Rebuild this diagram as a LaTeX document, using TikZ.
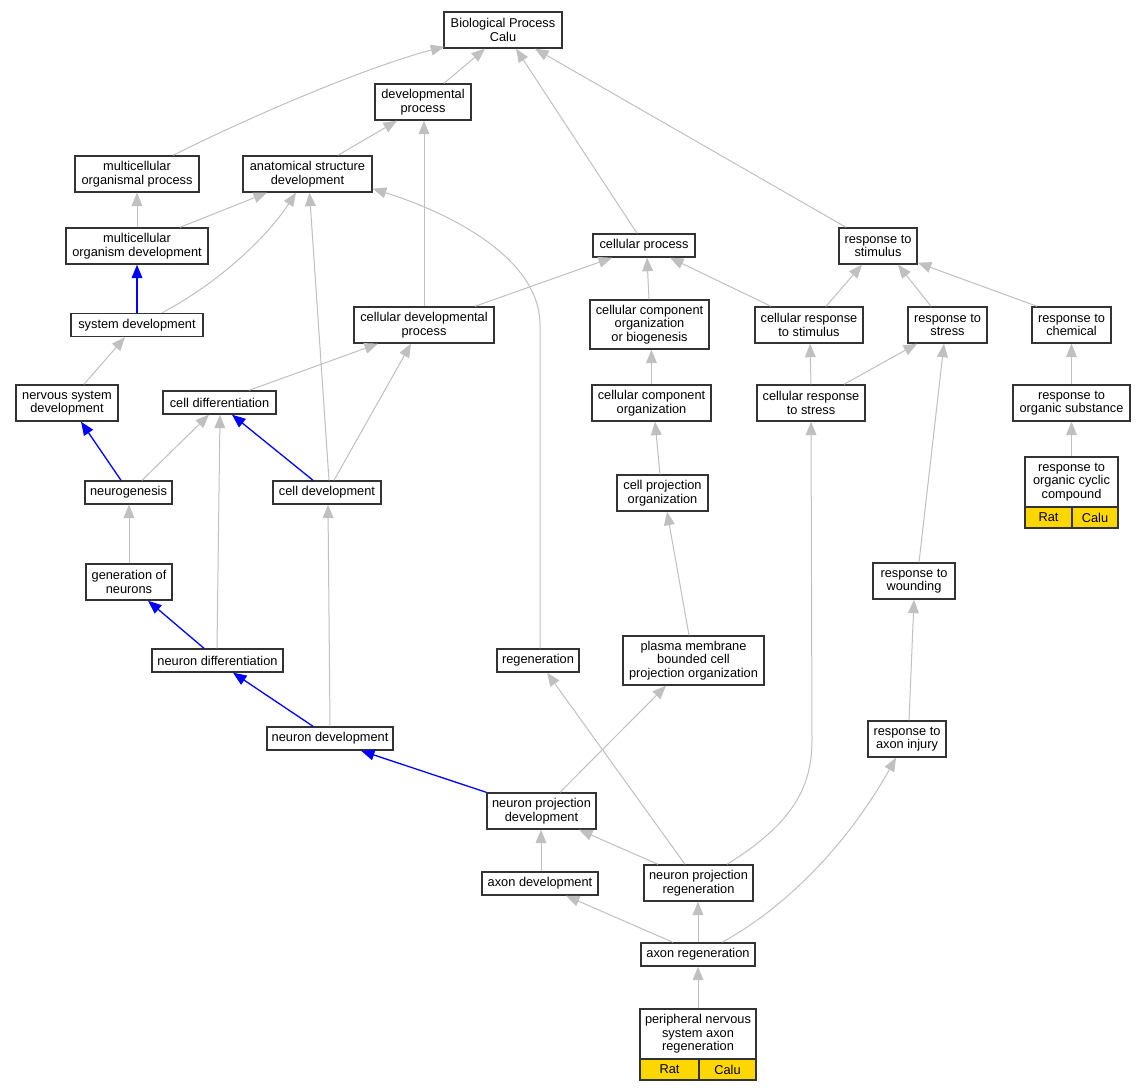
\documentclass[tikz,border=0pt]{standalone}
\usepackage{fontspec}
\setmainfont{Liberation Sans}
\usetikzlibrary{arrows.meta}
\definecolor{edgegray}{RGB}{192,192,192}
\definecolor{boxline}{RGB}{51,51,51}
\definecolor{goldy}{RGB}{255,215,0}
\tikzset{
  box/.style={draw=boxline, line width=1.4pt, fill=white, inner sep=0pt, align=center,
    font=\fontsize{12.8}{13.6}\selectfont},
  bx/.style n args={2}{box, minimum width=#1pt, minimum height=#2pt},
  ybx/.style n args={2}{bx={#1}{#2}, fill=goldy},
  ge/.style={draw=edgegray, line width=1pt, -{Triangle[length=13.5pt,width=10.8pt]}},
  be/.style={draw=blue, line width=1.3pt, -{Triangle[length=13.5pt,width=10.8pt]}}
}
\begin{document}
\begin{tikzpicture}[x=1pt,y=1pt]
\useasboundingbox[fill=white] (0,0) rectangle (1145,-1091);
% nodes
\node[bx={118}{36}] (bp) at (503,-30) {Biological Process\\Calu};
\node[bx={96}{36}] (devproc) at (423,-102) {developmental\\process};
\node[bx={124}{36}] (mop) at (137,-174) {multicellular\\organismal process};
\node[bx={129}{36}] (asd) at (307.5,-174) {anatomical structure\\development};
\node[bx={142}{36}] (mod) at (137,-246) {multicellular\\organism development};
\node[bx={132}{23}] (sysdev) at (137,-325) {system development};
\node[bx={140}{36}] (cdp) at (424,-325) {cellular developmental\\process};
\node[bx={102}{23}] (cp) at (644,-245.5) {cellular process};
\node[bx={78}{36}] (rts) at (878,-246) {response to\\stimulus};
\node[bx={119}{49}] (ccob) at (649.5,-324.5) {cellular component\\organization\\or biogenesis};
\node[bx={108}{36}] (crs) at (809,-325) {cellular response\\to stimulus};
\node[bx={79}{36}] (rstress) at (947.5,-325) {response to\\stress};
\node[bx={79}{36}] (rchem) at (1071.5,-325) {response to\\chemical};
\node[bx={102}{36}] (nsd) at (67,-403) {nervous system\\development};
\node[bx={113}{23}] (celldiff) at (219.5,-402.5) {cell differentiation};
\node[bx={119}{36}] (cco) at (651.5,-403) {cellular component\\organization};
\node[bx={108}{36}] (crstress) at (811,-403) {cellular response\\to stress};
\node[bx={117}{36}] (ros) at (1071.5,-403) {response to\\organic substance};
\node[bx={87}{23}] (neuro) at (128.5,-492.5) {neurogenesis};
\node[bx={108}{23}] (celldev) at (327,-492.5) {cell development};
\node[bx={91}{36}] (cpo) at (662.5,-493) {cell projection\\organization};
\node[bx={93}{50}] (rocc) at (1071.5,-482) {response to\\organic cyclic\\compound};
\node[ybx={47}{21}] (roccrat) at (1048.5,-517.5) {Rat};
\node[ybx={46}{21}] (rocccalu) at (1095,-517.5) {Calu};
\node[bx={86}{36}] (gon) at (129,-582) {generation of\\neurons};
\node[bx={82}{36}] (rwound) at (914,-581) {response to\\wounding};
\node[bx={131}{23}] (nd) at (217.5,-660.5) {neuron differentiation};
\node[bx={82}{23}] (regen) at (538,-660.5) {regeneration};
\node[bx={141}{49}] (pmbcpo) at (693.5,-660.5) {plasma membrane\\bounded cell\\projection organization};
\node[bx={126}{23}] (ndev) at (330,-738.5) {neuron development};
\node[bx={78}{36}] (rai) at (907,-739) {response to\\axon injury};
\node[bx={109}{36}] (npd) at (541.5,-811) {neuron projection\\development};
\node[bx={116}{23}] (axdev) at (540,-883.5) {axon development};
\node[bx={109}{36}] (npr) at (698.5,-883) {neuron projection\\regeneration};
\node[bx={114}{23}] (axreg) at (698,-954.5) {axon regeneration};
\node[bx={116}{50}] (pnsar) at (698,-1034) {peripheral nervous\\system axon\\regeneration};
\node[ybx={59}{21}] (pnsarrat) at (669.5,-1069.5) {Rat};
\node[ybx={57}{21}] (pnsarcalu) at (727.5,-1069.5) {Calu};
% gray edges
\draw[ge] ([xshift=21pt]devproc.north) -- ([xshift=-18pt]bp.south);
\draw[ge] ([xshift=36pt]mop.north) .. controls (260,-112) and (370,-66) .. ([xshift=1pt,yshift=2pt]bp.south west);
\draw[ge] ([xshift=-7pt]cp.north) -- ([xshift=13pt]bp.south);
\draw[ge] ([xshift=-32pt]rts.north) -- ([xshift=32pt]bp.south);
\draw[ge] ([xshift=30.5pt]asd.north) -- ([xshift=-26pt]devproc.south);
\draw[ge] (cdp.north) -- ([xshift=1pt]devproc.south);
\draw[ge] (mod.north) -- (mop.south);
\draw[ge] ([xshift=43pt]mod.north) -- ([xshift=-40.5pt]asd.south);
\draw[ge] ([xshift=25pt]sysdev.north) .. controls (215,-285) and (265,-240) .. ([xshift=-11.5pt]asd.south);
\draw[ge] ([xshift=2pt]celldev.north) -- ([xshift=2pt]asd.south);
\draw[ge] ([xshift=2pt]regen.north) -- (540,-325) .. controls (540,-258) and (450,-213) .. ([yshift=4pt]asd.south east);
\draw[ge] ([xshift=17pt]nsd.north) -- ([xshift=-12pt]sysdev.south);
\draw[ge] ([xshift=51pt]cdp.north) -- ([xshift=-32pt]cp.south);
\draw[ge] ([xshift=-0.5pt]ccob.north) -- ([xshift=3pt]cp.south);
\draw[ge] ([xshift=-38pt]crs.north) -- ([xshift=26pt]cp.south);
\draw[ge] ([xshift=17pt]crs.north) -- ([xshift=-16pt]rts.south);
\draw[ge] ([xshift=-16.5pt]rstress.north) -- ([xshift=20pt]rts.south);
\draw[ge] ([xshift=-34.5pt]rchem.north) -- ([yshift=2pt]rts.south east);
\draw[ge] ([xshift=29.5pt]celldiff.north) -- ([xshift=-46pt]cdp.south);
\draw[ge] ([xshift=7pt]celldev.north) -- ([xshift=-13pt]cdp.south);
\draw[ge] (cco.north) -- ([xshift=2pt]ccob.south);
\draw[ge] (crstress.north) -- ([xshift=1pt]crs.south);
\draw[ge] ([xshift=33pt]crstress.north) -- ([xshift=-30.5pt]rstress.south);
\draw[ge] ([xshift=13.5pt]neuro.north) -- ([xshift=-10.5pt]celldiff.south);
\draw[ge] ([xshift=-0.5pt]nd.north) -- ([xshift=0.5pt]celldiff.south);
\draw[ge] (ros.north) -- (rchem.south);
\draw[ge] ([xshift=-2.5pt]cpo.north) -- ([xshift=3.5pt]cco.south);
\draw[ge] (gon.north) -- ([xshift=0.5pt]neuro.south);
\draw[ge] (ndev.north) -- ([xshift=1pt]celldev.south);
\draw[ge] (rocc.north) -- (ros.south);
\draw[ge] ([xshift=-4.5pt]pmbcpo.north) -- ([xshift=4.5pt]cpo.south);
\draw[ge] ([xshift=5pt]rwound.north) -- ([xshift=-3.5pt]rstress.south);
\draw[ge] ([xshift=18.5pt]npd.north) -- ([xshift=-27.5pt]pmbcpo.south);
\draw[ge] ([xshift=-13.5pt]npr.north) -- ([xshift=9pt]regen.south);
\draw[ge] ([xshift=28.5pt]npr.north) .. controls (790,-825) and (812,-790) .. (812,-740) -- (crstress.south);
\draw[ge] ([xshift=2pt]rai.north) -- (rwound.south);
\draw[ge] ([xshift=1pt]axdev.north) -- ([xshift=-0.5pt]npd.south);
\draw[ge] ([xshift=-40.5pt]npr.north) -- ([xshift=37.5pt]npd.south);
\draw[ge] ([xshift=-25pt]axreg.north) -- ([xshift=26pt]axdev.south);
\draw[ge] (axreg.north) -- ([xshift=-0.5pt]npr.south);
\draw[ge] ([xshift=24pt]axreg.north) .. controls (790,-905) and (850,-840) .. ([xshift=-11pt]rai.south);
\draw[ge] (pnsar.north) -- (axreg.south);
% blue edges
\draw[be] (sysdev.north) -- (mod.south);
\draw[be] ([xshift=-7.5pt]neuro.north) -- ([xshift=14pt]nsd.south);
\draw[be] ([xshift=-14pt]celldev.north) -- ([xshift=12.5pt]celldiff.south);
\draw[be] ([xshift=-13.5pt]nd.north) -- ([xshift=19pt]gon.south);
\draw[be] ([xshift=-17pt]ndev.north) -- ([xshift=15.5pt]nd.south);
\draw[be] (npd.north west) -- ([xshift=31pt]ndev.south);
\end{tikzpicture}
\end{document}
